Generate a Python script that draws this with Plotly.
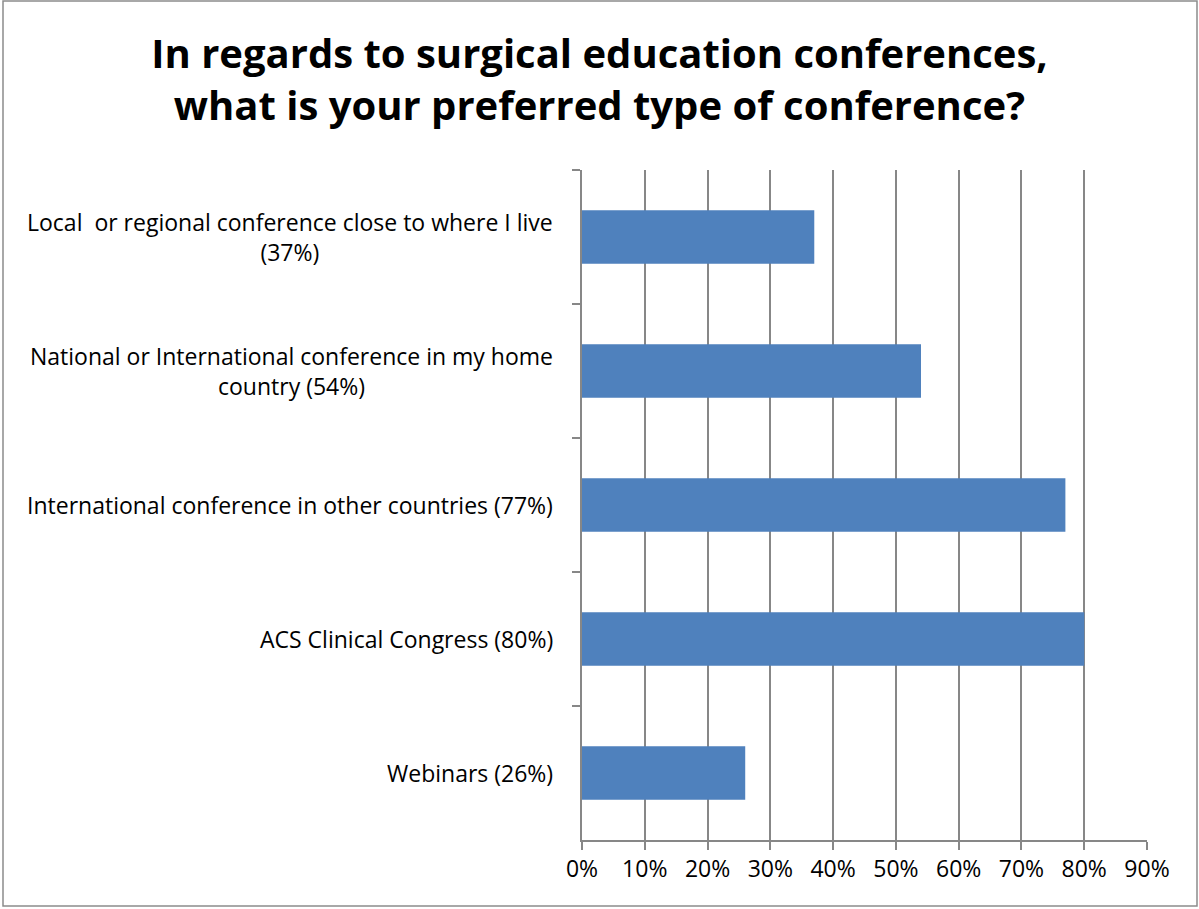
import plotly.graph_objects as go

categories = [
    "Local  or regional conference close to where I live<br>(37%)",
    "National or International conference in my home<br>country (54%)",
    "International conference in other countries (77%)",
    "ACS Clinical Congress (80%)",
    "Webinars (26%)",
]
values = [37, 54, 77, 80, 26]
x_ticks = [0, 10, 20, 30, 40, 50, 60, 70, 80, 90]
x_tick_labels = [f"{v}%" for v in x_ticks]
title_text = "In regards to surgical education conferences,<br>what is your preferred type of conference?"

W, H = 1199, 909
L, R, T, B = 582, 52, 170, 69
pw, ph = W - L - R, H - T - B
grid = "#878787"
font = "Open Sans"

fig = go.Figure()
fig.add_trace(go.Bar(
    x=values, y=categories, orientation="h",
    marker=dict(color="#4F81BD", line=dict(width=0)),
    width=0.4,
))

for c in categories:
    fig.add_annotation(
        x=0, xref="paper", y=c, yref="y", text=c, showarrow=False,
        xanchor="right", yanchor="middle", align="center", xshift=-27,
        font=dict(family=font, size=23, color="#000000"),
    )

# outer chart border
fig.add_shape(
    type="rect", xref="paper", yref="paper",
    x0=(3 - L) / pw, x1=(1197 - L) / pw,
    y0=(H - B - 906) / ph, y1=(H - B - 1) / ph,
    line=dict(color="#8c8c8c", width=1.5), fillcolor="rgba(0,0,0,0)", layer="below",
)

fig.update_layout(
    width=W, height=H,
    margin=dict(l=L, r=R, t=T, b=B),
    paper_bgcolor="white", plot_bgcolor="white",
    showlegend=False,
    title=dict(
        text=title_text, x=0.5, xanchor="center", y=1 - 68 / H, yanchor="middle",
        font=dict(family=font, size=40, color="#000000", weight="bold"),
    ),
    xaxis=dict(
        range=[0, 90], tickvals=x_ticks, ticktext=x_tick_labels,
        showgrid=True, gridcolor=grid, gridwidth=1.5,
        showline=True, linecolor=grid, linewidth=1.5,
        ticks="outside", ticklen=8, tickcolor=grid, tickwidth=1.5,
        tickfont=dict(family=font, size=23, color="#000000"),
        zeroline=False, fixedrange=True,
    ),
    yaxis=dict(
        type="category", autorange="reversed",
        categoryorder="array", categoryarray=categories,
        showticklabels=False, tickson="boundaries",
        ticks="outside", ticklen=8, tickcolor=grid, tickwidth=1.5,
        showline=True, linecolor=grid, linewidth=1.5,
        showgrid=False, zeroline=False, fixedrange=True,
    ),
)

fig.write_html("out.html", config={"displayModeBar": False},
               post_script="document.body.style.margin='0';")
